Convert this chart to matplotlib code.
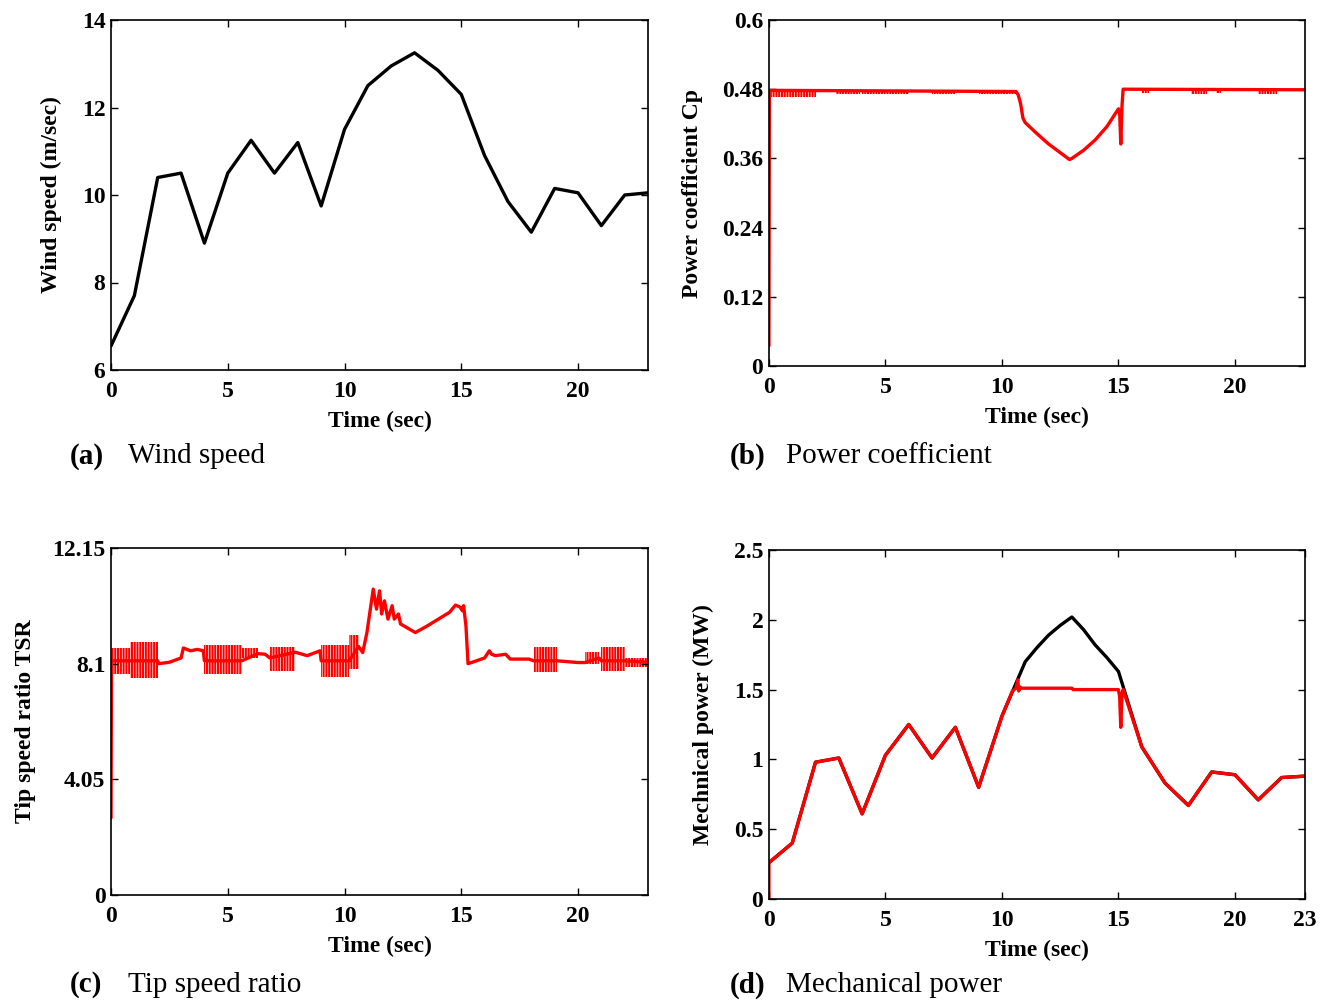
import numpy as np
import matplotlib
matplotlib.use("Agg")
import matplotlib.pyplot as plt

plt.rcParams['font.family'] = ['Liberation Serif', 'DejaVu Serif']
plt.rcParams['font.weight'] = 'bold'
plt.rcParams['axes.labelweight'] = 'bold'
plt.rcParams['hatch.linewidth'] = 1.5
plt.rcParams['hatch.color'] = 'red'

# (a) wind speed
wind_t = list(range(24))
wind_v = [6.55, 7.7, 10.4, 10.5, 8.9, 10.5, 11.25, 10.5, 11.2, 9.75, 11.5, 12.5,
          12.95, 13.25, 12.85, 12.3, 10.9, 9.85, 9.15, 10.15, 10.05, 9.3, 10.0, 10.05]

# (b) power coefficient
cp_t = [0.0, 0.02, 10.6, 10.7, 10.8, 10.9, 11.0, 11.5, 12.0, 12.5, 12.9, 13.0,
        13.5, 14.0, 14.5, 15.0, 15.05, 15.1, 15.15, 15.2, 23.0]
cp_v = [0.035, 0.478, 0.476, 0.47, 0.455, 0.43, 0.422, 0.403, 0.385, 0.37, 0.358, 0.36,
        0.374, 0.392, 0.415, 0.446, 0.44, 0.385, 0.45, 0.48, 0.479]
cp_band_start = [0.05, 2.9, 4.0, 7.0, 9.0, 16.0, 18.1, 19.2, 21.0]
cp_band_end = [2.0, 3.9, 6.0, 8.0, 10.6, 16.3, 18.8, 19.4, 21.8]
cp_band_lo = [0.467, 0.472, 0.472, 0.472, 0.472, 0.474, 0.472, 0.473, 0.472]

# (c) tip speed ratio
tsr_t = [0.0, 0.02, 0.8, 2.0, 2.05, 2.5, 3.0, 3.1, 3.4, 3.7, 3.95, 4.0,
         5.6, 6.3, 6.6, 6.8, 7.9, 8.4, 8.95, 9.0, 10.2, 10.6, 10.78, 10.96,
         11.23, 11.37, 11.5, 11.59, 11.71, 11.86, 12.04, 12.13, 12.31, 12.4, 13.03, 13.5,
         14.0, 14.5, 14.75, 14.9, 14.96, 15.05, 15.1, 15.2, 15.29, 15.65, 16.0, 16.2,
         16.3, 16.46, 16.9, 17.1, 17.9, 18.1, 19.1, 20.0, 20.3, 20.9, 21.0, 22.0, 23.0]
tsr_v = [2.7, 8.2, 8.2, 8.2, 8.1, 8.15, 8.3, 8.65, 8.55, 8.6, 8.55, 8.2,
         8.2, 8.45, 8.43, 8.3, 8.5, 8.38, 8.55, 8.2, 8.2, 8.7, 8.49, 9.19,
         10.71, 10.01, 10.65, 9.84, 10.3, 9.66, 10.13, 9.66, 9.84, 9.49, 9.19, 9.4,
         9.65, 9.9, 10.15, 10.1, 10.07, 9.95, 10.13, 9.43, 8.1, 8.2, 8.3, 8.55,
         8.43, 8.38, 8.43, 8.26, 8.26, 8.2, 8.2, 8.14, 8.14, 8.3, 8.2, 8.2, 8.15]
tsr_band_start = [0.02, 0.8, 4.0, 5.6, 6.8, 9.0, 10.2, 18.1, 20.3, 21.0, 22.0]
tsr_band_end = [0.8, 2.0, 5.6, 6.3, 7.9, 10.2, 10.6, 19.1, 20.9, 22.0, 23.0]
tsr_band_lo = [7.75, 7.6, 7.75, 8.3, 7.85, 7.65, 7.9, 7.8, 8.1, 7.85, 8.0]
tsr_band_hi = [8.65, 8.85, 8.75, 8.65, 8.7, 8.75, 9.1, 8.7, 8.5, 8.7, 8.3]

# (d) mechanical power (MW)
pw_t = [0, 1, 2, 3, 4, 5, 6, 7, 8, 9, 10, 11, 11.5, 12, 12.5, 13, 13.5, 14, 14.5, 15,
        16, 17, 18, 19, 20, 21, 22, 23]
pw_black = [0.26, 0.40, 0.98, 1.01, 0.61, 1.03, 1.25, 1.01, 1.23, 0.80, 1.31, 1.70,
            1.80, 1.89, 1.96, 2.02, 1.93, 1.82, 1.73, 1.63,
            1.09, 0.83, 0.67, 0.91, 0.89, 0.71, 0.87, 0.88]
pr_t = [0.0, 0.0, 1, 2, 3, 4, 5, 6, 7, 8, 9, 10, 10.45, 10.6, 10.68, 10.72, 10.76, 10.8,
        13.0, 13.05, 15.0, 15.05, 15.1, 15.15, 15.2, 16, 17, 18, 19, 20, 21, 22, 23]
pr_v = [0.0, 0.26, 0.40, 0.98, 1.01, 0.61, 1.03, 1.25, 1.01, 1.23, 0.80, 1.31, 1.49,
        1.51, 1.57, 1.49, 1.52, 1.51, 1.51, 1.50, 1.50, 1.45, 1.23, 1.47, 1.50,
        1.09, 0.83, 0.67, 0.91, 0.89, 0.71, 0.87, 0.88]

fig = plt.figure(figsize=(13.28, 10), dpi=100)
ax_a = fig.add_axes([0.0836, 0.630, 0.4044, 0.350])
ax_b = fig.add_axes([0.579, 0.634, 0.4036, 0.346])
ax_c = fig.add_axes([0.0836, 0.105, 0.4044, 0.347])
ax_d = fig.add_axes([0.579, 0.101, 0.4036, 0.349])


def matlab_style(ax):
    ax.tick_params(direction='in', top=True, right=True, length=5, width=1,
                   labelsize=17)
    ax.tick_params(axis='x', pad=8)
    ax.tick_params(axis='y', pad=4)
    for s in ax.spines.values():
        s.set_linewidth(1.2)
    ax.set_xlabel('Time (sec)', fontsize=17, labelpad=6)


LW = 2.4
line_kw = dict(lw=LW, solid_joinstyle='round', solid_capstyle='round')
band_kw = dict(facecolor='none', edgecolor='red', hatch='||||||', lw=0)

ax_a.plot(wind_t, wind_v, color='black', **line_kw)
ax_a.set_xlim(0, 23)
ax_a.set_ylim(6, 14)
ax_a.set_xticks([0, 5, 10, 15, 20])
ax_a.set_yticks([6, 8, 10, 12, 14])
matlab_style(ax_a)
ax_a.set_ylabel('Wind speed (m/sec)', fontsize=17, labelpad=14)

ax_b.plot(cp_t, cp_v, color='red', **line_kw)
for s, e, lo in zip(cp_band_start, cp_band_end, cp_band_lo):
    ax_b.fill_between([s, e], lo, 0.479, **band_kw)
ax_b.set_xlim(0, 23)
ax_b.set_ylim(0, 0.6)
ax_b.set_xticks([0, 5, 10, 15, 20])
ax_b.set_yticks([0, 0.12, 0.24, 0.36, 0.48, 0.6])
ax_b.set_yticklabels(['0', '0.12', '0.24', '0.36', '0.48', '0.6'])
matlab_style(ax_b)
ax_b.set_ylabel('Power coefficient Cp', fontsize=17, labelpad=14)

ax_c.plot(tsr_t, tsr_v, color='red', **line_kw)
for s, e, lo, hi in zip(tsr_band_start, tsr_band_end, tsr_band_lo, tsr_band_hi):
    ax_c.fill_between([s, e], lo, hi, **band_kw)
ax_c.set_xlim(0, 23)
ax_c.set_ylim(0, 12.15)
ax_c.set_xticks([0, 5, 10, 15, 20])
ax_c.set_yticks([0, 4.05, 8.1, 12.15])
ax_c.set_yticklabels(['0', '4.05', '8.1', '12.15'])
matlab_style(ax_c)
ax_c.set_ylabel('Tip speed ratio TSR', fontsize=17, labelpad=12)

ax_d.plot(pw_t, pw_black, color='black', **line_kw)
ax_d.plot(pr_t, pr_v, color='red', **line_kw)
ax_d.set_xlim(0, 23)
ax_d.set_ylim(0, 2.5)
ax_d.set_xticks([0, 5, 10, 15, 20, 23])
ax_d.set_yticks([0, 0.5, 1, 1.5, 2, 2.5])
ax_d.set_yticklabels(['0', '0.5', '1', '1.5', '2', '2.5'])
matlab_style(ax_d)
ax_d.set_ylabel('Mechnical power (MW)', fontsize=17, labelpad=14)

captions = [('(a)', 'Wind speed', 0.0527, 0.0964, 0.544),
            ('(b)', 'Power coefficient', 0.5497, 0.5919, 0.544),
            ('(c)', 'Tip speed ratio', 0.0527, 0.0964, 0.015),
            ('(d)', 'Mechanical power', 0.5497, 0.5919, 0.015)]
for tag, name, x_tag, x_name, y in captions:
    fig.text(x_tag, y, tag, fontsize=21, fontweight='bold', va='center')
    fig.text(x_name, y, name, fontsize=21, fontweight='normal', va='center')

fig.savefig('out.png', dpi=100)
